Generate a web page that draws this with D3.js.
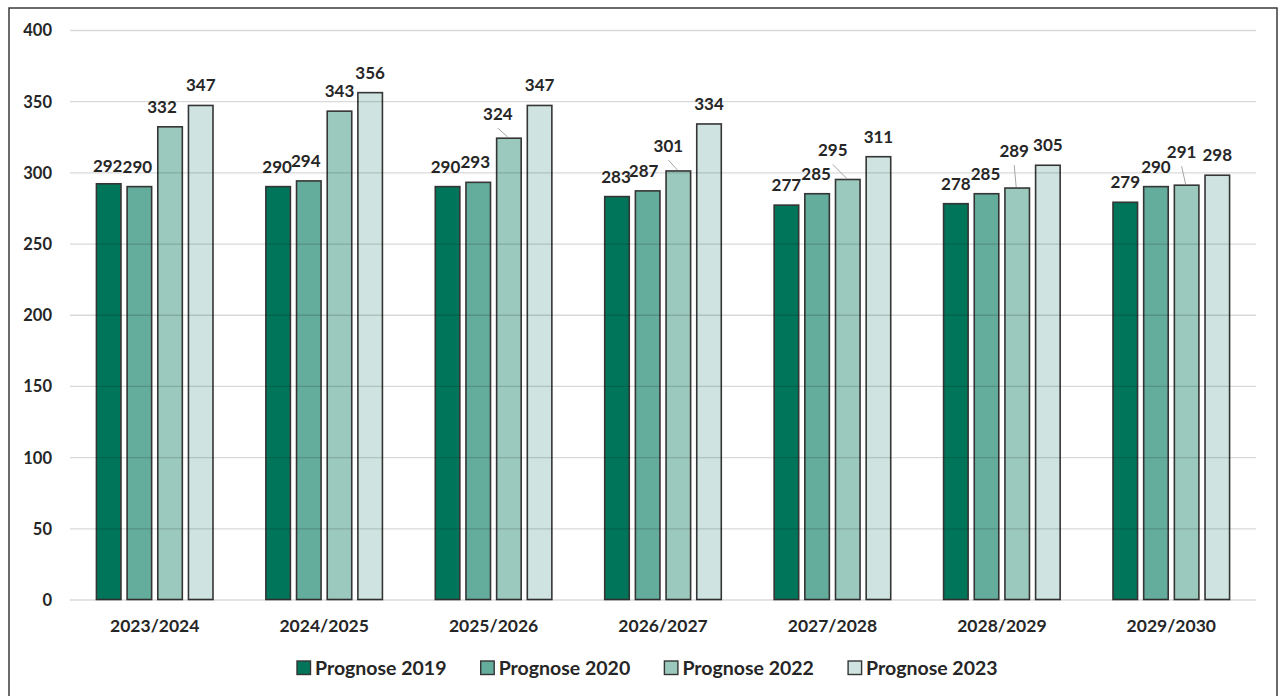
<!DOCTYPE html>
<html>
<head>
<meta charset="utf-8">
<script src="https://cdn.jsdelivr.net/npm/d3@7"></script>
<style>
  html, body { margin: 0; padding: 0; background: #ffffff; }
  svg { display: block; }
  text { font-family: Lato, "Open Sans", "DejaVu Sans", sans-serif; font-weight: bold; fill: #262626; }
</style>
</head>
<body>
<svg id="chart" width="1285" height="696"></svg>
<script>
// ---- data ----
const categories = ["2023/2024", "2024/2025", "2025/2026", "2026/2027", "2027/2028", "2028/2029", "2029/2030"];
const seriesNames = ["Prognose 2019", "Prognose 2020", "Prognose 2022", "Prognose 2023"];
const prognose2019 = [292, 290, 290, 283, 277, 278, 279];
const prognose2020 = [290, 294, 293, 287, 285, 285, 290];
const prognose2022 = [332, 343, 324, 301, 295, 289, 291];
const prognose2023 = [347, 356, 347, 334, 311, 305, 298];
const yTickValues = [0, 50, 100, 150, 200, 250, 300, 350, 400];

// ---- styling (label nudges relative to default placement, in px) ----
const seriesColors = ["#00755a", "#64ac9c", "#9cc9bd", "#cfe4e0"];
const labelDx = [
  [-1, -1, -2, -1, 0, 0, 0],
  [-2, -3, -3, -4, -1, -1, 0],
  [-8, 0, -11, -10, -15, -3, -5],
  [0, 0, 0, 0, 0, 0, 0]
];
const labelDy = [
  [2, 0, 0, 0, 0, 0, 0],
  [0, 0, 0, 0, 0, 0, 0],
  [0, 0, -4, -5, -9, -17, -13],
  [0, 0, 0, 0, 0, 0, 0]
];

const seriesValues = [prognose2019, prognose2020, prognose2022, prognose2023];
const rows = categories.map((c, i) => ({
  category: c,
  values: seriesNames.map((s, j) => ({ series: s, si: j, ci: i, value: seriesValues[j][i] }))
}));

const svg = d3.select("#chart");

// outer border
svg.append("rect")
  .attr("x", 9).attr("y", 8)
  .attr("width", 1268).attr("height", 700)
  .attr("fill", "none").attr("stroke", "#3a3a3a").attr("stroke-width", 1.5);

const plotL = 70, plotR = 1256, plotT = 30, plotB = 599.5;

const y = d3.scaleLinear().domain([0, 400]).range([plotB, plotT]);
const x0 = d3.scaleBand().domain(categories).range([plotL, plotR])
  .paddingInner(0.312).paddingOuter(0.156);
const x1 = d3.scaleBand().domain(seriesNames).range([0, x0.bandwidth()]).paddingInner(0.2);
const color = d3.scaleOrdinal().domain(seriesNames).range(seriesColors);

// bars
const groups = svg.append("g").selectAll("g").data(rows).join("g")
  .attr("transform", d => `translate(${x0(d.category)},0)`);

groups.selectAll("rect").data(d => d.values).join("rect")
  .attr("x", d => x1(d.series))
  .attr("y", d => y(d.value))
  .attr("width", x1.bandwidth())
  .attr("height", d => y(0) - y(d.value))
  .attr("fill", d => color(d.series))
  .attr("stroke", "#353535")
  .attr("stroke-width", 1.6);

// gridlines + y labels
const yAxis = d3.axisLeft(y).tickValues(yTickValues)
  .tickSize(-(plotR - plotL)).tickPadding(18);
const gy = svg.append("g").attr("transform", `translate(${plotL},0)`).call(yAxis);
gy.select(".domain").remove();
gy.selectAll(".tick line").attr("stroke", "#000").attr("stroke-opacity", 0.15).attr("stroke-width", 1.3);
gy.selectAll(".tick text")
  .attr("font-size", 16.5).attr("font-family", "Lato, sans-serif").attr("font-weight", "bold")
  .attr("fill", "#262626").attr("dy", "0.36em");

// x axis labels
const xAxis = d3.axisBottom(x0).tickSize(0).tickPadding(20);
const gx = svg.append("g").attr("transform", `translate(0,${plotB})`).call(xAxis);
gx.select(".domain").remove();
gx.selectAll(".tick text")
  .attr("font-size", 17.5).attr("font-family", "Lato, sans-serif").attr("font-weight", "bold")
  .attr("fill", "#262626");

// data labels with leader lines
const allVals = rows.flatMap(r => r.values);
const barCX = d => x0(categories[d.ci]) + x1(d.series) + x1.bandwidth() / 2;
const labelX = d => barCX(d) + labelDx[d.si][d.ci];
const labelY = d => y(d.value) - 14 + labelDy[d.si][d.ci];

svg.append("g").selectAll("line")
  .data(allVals.filter(d => labelDy[d.si][d.ci] <= -4))
  .join("line")
  .attr("x1", d => labelX(d))
  .attr("y1", d => labelY(d) + 8)
  .attr("x2", d => barCX(d) - 1)
  .attr("y2", d => y(d.value) - 1)
  .attr("stroke", "#a6a6a6").attr("stroke-width", 1);

svg.append("g").selectAll("text")
  .data(allVals)
  .join("text")
  .attr("x", d => labelX(d))
  .attr("y", d => labelY(d))
  .attr("text-anchor", "middle")
  .attr("font-size", 17)
  .text(d => d.value);

// legend
const legendStart = 297, legendStep = 183.7, legendY = 661;
const lg = svg.append("g").selectAll("g").data(seriesNames).join("g")
  .attr("transform", (d, i) => `translate(${legendStart + i * legendStep},${legendY})`);
lg.append("rect")
  .attr("x", 0).attr("y", 0).attr("width", 13.5).attr("height", 13.5)
  .attr("fill", d => color(d)).attr("stroke", "#353535").attr("stroke-width", 1.4);
lg.append("text")
  .attr("x", 18).attr("y", 13.5)
  .attr("font-size", 19.5)
  .text(d => d);
</script>
</body>
</html>
